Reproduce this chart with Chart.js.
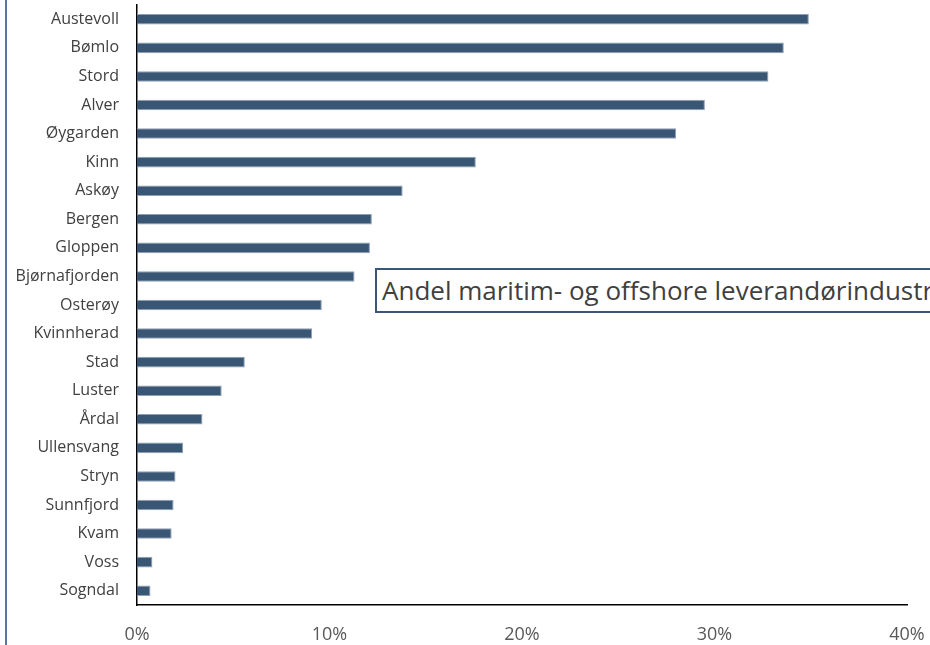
<!DOCTYPE html>
<html>
<head>
<meta charset="utf-8">
<script src="https://cdn.jsdelivr.net/npm/chart.js@4"></script>
<style>
	html, body { margin: 0; padding: 0; background: #fff; overflow: hidden; }
	#wrap { position: relative; width: 930px; height: 645px; overflow: hidden; }
	#chart { display: block; }
	#frame { position: absolute; left: 5px; top: 0; width: 2px; height: 645px; background: #5a7896; }
	#note {
		position: absolute; left: 375px; top: 268px; width: 600px; height: 41px;
		border: 2px solid #3b5676; background: #fff; white-space: nowrap;
		font-family: "Open Sans", sans-serif; font-size: 26px; color: #404040;
		line-height: 41px; padding-left: 5px; box-sizing: content-box;
	}
</style>
</head>
<body>
<div id="wrap">
	<canvas id="chart" width="930" height="645"></canvas>
	<div id="frame"></div>
	<div id="note">Andel maritim- og offshore leverandørindustri</div>
</div>
<script>
	var kommuner = ['Austevoll', 'Bømlo', 'Stord', 'Alver', 'Øygarden', 'Kinn', 'Askøy', 'Bergen',
		'Gloppen', 'Bjørnafjorden', 'Osterøy', 'Kvinnherad', 'Stad', 'Luster', 'Årdal',
		'Ullensvang', 'Stryn', 'Sunnfjord', 'Kvam', 'Voss', 'Sogndal'];
	var andel = [34.9, 33.6, 32.8, 29.5, 28.0, 17.6, 13.8, 12.2,
		12.1, 11.3, 9.6, 9.1, 5.6, 4.4, 3.4,
		2.4, 2.0, 1.9, 1.8, 0.8, 0.7];
	var xTicks = [0, 10, 20, 30, 40];

	var barColor = '#3a5675';
	var labelFont = '"Open Sans", sans-serif';

	new Chart(document.getElementById('chart'), {
		type: 'bar',
		data: {
			labels: kommuner,
			datasets: [{
				data: andel,
				backgroundColor: barColor,
				borderColor: '#8da0b5',
				borderWidth: { top: 1, bottom: 1, left: 0, right: 1 },
				barPercentage: 0.74,
				categoryPercentage: 0.5
			}]
		},
		options: {
			indexAxis: 'y',
			responsive: false,
			animation: false,
			layout: { padding: { top: 5, right: 23, bottom: 0, left: 0 } },
			plugins: { legend: { display: false }, tooltip: { enabled: false } },
			scales: {
				x: {
					min: 0,
					max: 40,
					afterBuildTicks: function(axis) {
						axis.ticks = xTicks.map(function(v) { return { value: v }; });
					},
					afterFit: function(axis) {
						axis.height = 40;
						axis.paddingLeft = 0;
						axis.paddingRight = 0;
					},
					grid: { display: false, drawTicks: false },
					border: { display: true, color: '#000', width: 1.5 },
					ticks: {
						padding: 19,
						color: '#595959',
						font: { family: labelFont, size: 18 },
						callback: function(v) { return v + '%'; }
					}
				},
				y: {
					afterFit: function(axis) {
						axis.width = 137;
						axis.paddingTop = 0;
						axis.paddingBottom = 0;
					},
					grid: { display: false, drawTicks: false },
					border: { display: true, color: '#000', width: 1.5 },
					ticks: {
						padding: 18,
						color: '#404040',
						font: { family: labelFont, size: 16 }
					}
				}
			}
		}
	});
</script>
</body>
</html>
